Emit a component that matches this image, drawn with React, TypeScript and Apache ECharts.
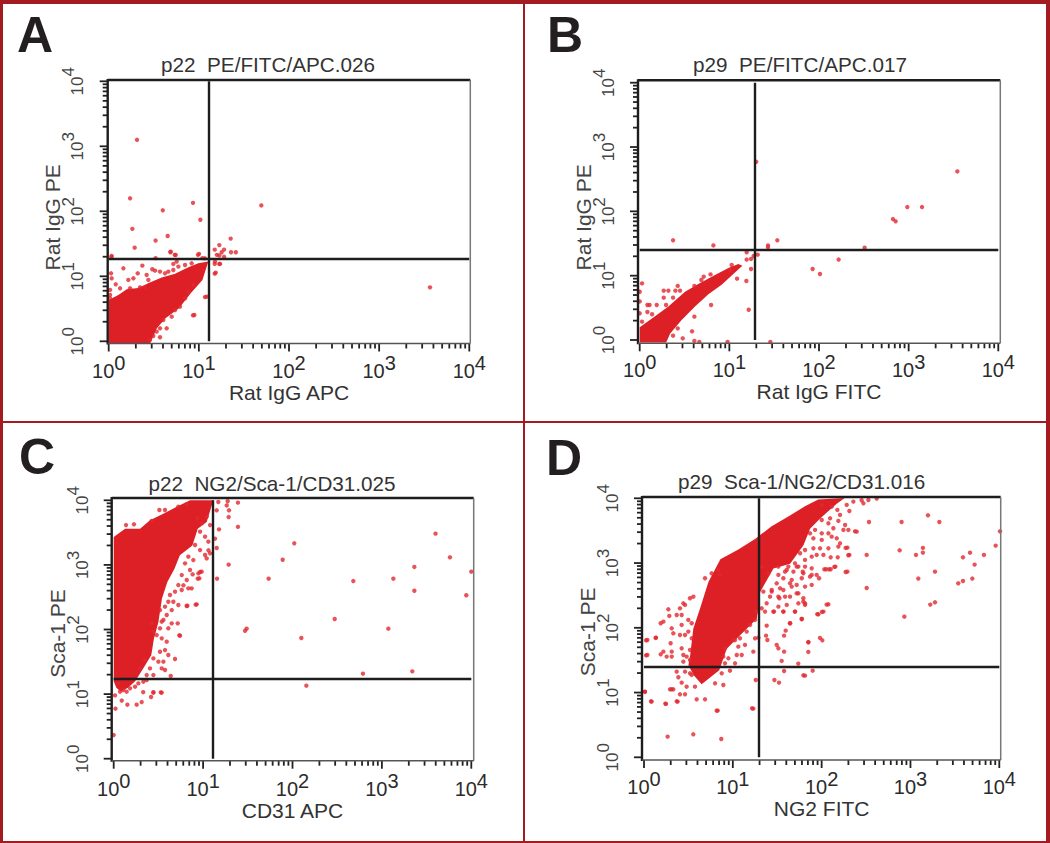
import React, { useEffect, useRef } from "react";
import * as echarts from "echarts";

// Every event position is stored as [log10 x, log10 y].
// The dense populations are stored as outlines of the solid region, individual events as points.
const titles = ["p22  PE/FITC/APC.026", "p29  PE/FITC/APC.017", "p22  NG2/Sca-1/CD31.025", "p29  Sca-1/NG2/CD31.016"];
const xNames = ["Rat IgG APC", "Rat IgG FITC", "CD31 APC", "NG2 FITC"];
const yNames = ["Rat IgG PE", "Rat IgG PE", "Sca-1 PE", "Sca-1 PE"];
const letters = ["A", "B", "C", "D"];
const gateX = [12.96, 19.3, 12.9, 19.4];
const gateY = [18.45, 25, 17.1, 25.4];
const tickValues = [1,2,3,4,5,6,7,8,9,10,20,30,40,50,60,70,80,90,100,200,300,400,500,600,700,800,900,1000,2000,3000,4000,5000,6000,7000,8000,9000,10000];

const cloudA = [[0,-0.03],[0,0.636],[0.107,0.713],[0.2,0.8],[0.329,0.82],[0.45,0.9],[0.588,0.98],[0.736,1.04],[0.884,1.14],[0.994,1.2],[1.105,1.226],[1.04,0.944],[0.91,0.738],[0.78,0.508],[0.63,0.354],[0.534,0.2],[0.46,-0.03]];
const cloudB = [[0,0.2],[0.152,0.35],[0.32,0.52],[0.506,0.75],[0.654,0.87],[0.84,1.01],[0.99,1.12],[1.1,1.18],[1.145,1.155],[1.063,1.05],[0.914,0.86],[0.766,0.71],[0.617,0.52],[0.468,0.31],[0.34,0.1],[0.295,-0.04],[0,-0.04]];
const cloudC = [[0,3.43],[0.127,3.56],[0.295,3.56],[0.406,3.69],[0.555,3.79],[0.705,3.9],[0.854,4],[1.115,4],[1.04,3.665],[0.94,3.56],[0.88,3.3],[0.74,3.15],[0.68,2.94],[0.6,2.735],[0.54,2.48],[0.5,2.116],[0.45,1.858],[0.42,1.6],[0.34,1.42],[0.24,1.2],[0.16,1.1],[0.08,1.04],[0.03,1.1],[0,1.2]];
const cloudD = [[0.52,1.575],[0.555,1.987],[0.63,2.296],[0.725,2.708],[0.86,3.06],[1.062,3.21],[1.25,3.37],[1.437,3.57],[1.625,3.72],[1.812,3.876],[1.962,3.98],[2.26,4.005],[2.17,3.917],[1.98,3.686],[1.87,3.53],[1.795,3.274],[1.645,2.99],[1.457,2.914],[1.307,2.553],[1.27,2.14],[1.082,1.884],[0.932,1.678],[0.847,1.344],[0.649,1.13],[0.56,1.266],[0.5,1.42]];

const eventsA = [[0.314,3.1],[0.237,2.2],[0.935,2.13],[0.6,2.015],[1.693,2.09],[1.017,1.87],[0.262,1.73],[0.654,1.62],[0.52,1.55],[0.288,1.44],[1.353,1.58],[0.684,1.37],[0.732,1.33],[0.03,1.3],[0.52,1.28],[0.99,1.33],[1.04,1.28],[1.227,1.48],[1.176,1.41],[1.28,1.41],[1.357,1.37],[1.41,1.37],[1.2,1.33],[1.253,1.37],[1.28,1.3],[1.227,1.32],[1.176,1.19],[1.227,1.19],[1.176,1.04],[1.068,0.68],[0.935,0.4],[3.564,0.83]];
const fringeA = [[0.033,1.313],[0.026,1.046],[0.163,1.123],[0.373,1.164],[0.484,1.108],[0.514,1.087],[0.717,1.19],[0.754,1.226],[0.033,0.969],[0.078,0.877],[0.218,0.944],[0.274,0.969],[0.322,1.046],[0.421,1.021],[0.44,0.944],[0.569,1.072],[0.662,1.072],[0.348,0.831],[0.403,0.831],[0.237,0.815],[0.126,0.815],[0.015,0.79],[0.015,0.713],[0.015,0.662],[0.625,1.046],[0.717,1.097],[0.773,1.149],[0.847,1.174],[0.92,1.2],[1.002,1.344],[0.743,1.328],[0.688,1.379],[1.068,1.277],[1.179,1.226],[1.235,1.19],[1.187,1.056],[1.087,0.687],[0.95,0.405],[0.884,0.764],[0.939,0.867],[0.847,0.662],[0.791,0.533],[0.736,0.482],[0.699,0.379],[0.606,0.328],[0.643,0.2],[0.569,0.2],[0.532,0.149],[0.495,0.082],[0.569,0.062],[0.458,0.021]];
const eventsB = [[1.3,2.77],[3.543,2.62],[2.985,2.067],[3.149,2.067],[2.825,1.88],[2.855,1.845],[2.509,1.435],[1.535,1.55],[1.431,1.47],[1.431,1.44],[0.372,1.55],[0.822,1.47],[2.219,1.25],[1.929,1.104],[2.011,1.026],[1.316,1.326],[1.271,1.306],[1.193,1.363],[1.193,1.25],[1.242,1.26],[1.242,1.104],[1.19,0.917],[1.086,0.953],[1.216,0.47],[0.796,0.544],[0.61,0.363],[0.584,0.135],[0.48,0.026],[0.424,0.18],[0.372,0.067],[0.61,-0.015],[0.665,-0.03],[0.98,-0.03],[1.457,-0.03],[0.026,0.88],[0,0.75],[0,0.6],[0,0.415],[0.026,0.285],[0.268,0.767],[0.32,0.767],[0.424,0.84],[0.398,0.767],[0.45,0.767],[0.268,0.658],[0.294,0.544],[0.19,0.544],[0.086,0.544],[0.11,0.544],[0.086,0.435],[0.138,0.4],[0.372,0.658],[0.714,0.984],[0.688,0.933],[0.79,1.02],[0.61,0.84],[1.026,1.166],[1.007,1.088]];
const eventsC = [[3.6,3.484],[2.02,3.334],[3.761,3.117],[1.89,3.08],[1.286,3.004],[3.363,2.968],[4,2.895],[1.733,2.787],[1.156,2.787],[3.128,2.787],[2.68,2.75],[3.363,2.6],[3.944,2.53],[2.472,2.163],[1.487,2.013],[1.469,1.98],[3.072,2.013],[2.099,1.868],[3.34,1.352],[2.788,1.316],[2.155,1.13],[0,0.366],[1.275,3.985],[1.39,3.964],[1.264,3.92],[1.29,3.845],[1.286,3.74],[1.39,3.59],[1.178,3.55],[1.152,3.845],[1.17,3.974],[1.133,3.406],[1.152,3.262],[1.04,3.1],[1.06,3.226],[0.966,2.89],[0.94,2.787],[0.883,2.854],[0.78,2.684],[0.917,2.385],[0.816,2.364],[0.734,1.91],[0.418,0.955],[0.526,1.027],[0.444,1.03],[0.33,1.03],[0.313,0.877],[0.257,0.836],[0.153,0.836],[0.09,0.9],[0.02,0.774],[0.015,0.98]];
const fringeC = [[0.936,3.72],[0.984,3.643],[1.04,3.746],[1.078,3.617],[0.966,3.514],[1.022,3.437],[1.059,3.359],[0.91,3.308],[0.966,3.23],[1.022,3.153],[1.078,3.179],[0.835,3.127],[0.891,3.075],[0.798,3.024],[0.854,2.921],[0.947,2.869],[0.984,2.895],[0.958,2.792],[0.761,2.843],[0.817,2.766],[0.723,2.688],[0.761,2.611],[0.835,2.637],[0.872,2.637],[0.686,2.585],[0.63,2.534],[0.824,2.368],[0.928,2.389],[0.723,2.379],[0.667,2.43],[0.611,2.43],[0.574,2.353],[0.649,2.301],[0.593,2.224],[0.518,2.301],[0.556,2.147],[0.649,2.095],[0.716,2.095],[0.611,2.018],[0.518,2.018],[0.481,1.914],[0.537,1.863],[0.593,1.811],[0.742,1.904],[0.574,1.682],[0.518,1.656],[0.611,1.605],[0.686,1.543],[0.556,1.502],[0.5,1.502],[0.444,1.553],[0.537,1.398],[0.406,1.398],[0.574,1.373],[0.638,1.28],[0.35,1.527],[0.295,1.398],[0.444,1.295],[0.369,1.295],[0.537,2.121],[0.425,2.095],[0.444,1.966],[0.138,3.617],[0.227,3.628],[0.425,3.68],[0.511,3.85],[0.574,3.85],[0.723,3.9],[0.817,3.94],[0.052,1.166],[0.108,1.063],[0.071,1.037],[0.183,1.089],[0.239,1.115],[0.276,1.166],[0.332,1.192],[0.369,1.218],[0.145,1.037],[0.444,1.022],[0.537,1.022]];
const eventsD = [[3.197,3.737],[2.9,3.634],[3.325,3.634],[2.533,3.634],[4.008,3.49],[3.959,3.269],[2.878,3.197],[3.14,3.233],[3.14,3.16],[3.062,3.125],[2.507,3.125],[3.67,3.16],[3.591,3.089],[3.827,3.125],[3.722,2.976],[3.276,2.867],[3.088,2.76],[3.696,2.76],[3.591,2.723],[3.538,2.687],[2.507,2.615],[3.276,2.394],[3.223,2.358],[2.931,2.172],[2.62,3.995],[2.45,3.97],[2.375,3.49],[2.3,3.12],[2.27,3.233],[2.27,2.862],[2.143,2.94],[2.083,2.903],[2.03,2.903],[2.056,2.358],[2.004,2.245],[1.951,2.21],[1.981,1.843],[2.008,1.807],[1.85,1.78],[1.85,1.627],[1.899,1.338],[1.794,1.266],[1.737,1.447],[0.266,0.319],[0.555,0.355],[0.87,0.283],[0.818,0.72],[1.216,0.757],[0.023,1.807],[0.023,1.575],[0.131,1.843],[0.011,1.009],[0.079,0.865],[0.24,0.829],[0.368,0.865],[0.311,1.05]];
const fringeDLower = [[0.443,2.378],[0.518,2.456],[0.405,2.301],[0.462,2.353],[0.556,2.481],[0.687,2.765],[0.762,2.842],[0.837,2.893],[0.856,2.816],[0.274,2.286],[0.285,2.183],[0.368,2.198],[0.424,2.198],[0.218,2.095],[0.188,2.07],[0.312,1.992],[0.33,1.915],[0.405,1.889],[0.462,1.889],[0.537,1.838],[0.499,1.941],[0.537,2.07],[0.499,2.121],[0.424,2.044],[0.3,1.761],[0.312,1.632],[0.218,1.632],[0.188,1.591],[0.255,1.555],[0.312,1.555],[0.424,1.683],[0.443,1.58],[0.518,1.658],[0.48,1.555],[0.443,1.477],[0.518,1.503],[0.038,1.812],[0.135,1.848],[0.038,1.58],[0.368,1.323],[0.387,1.236],[0.424,1.153],[0.462,1.323],[0.518,1.297],[0.48,1.091],[0.537,1.272],[0.574,1.091],[0.33,1.05],[0.293,1.05],[0.405,0.973],[0.462,0.973],[0.593,0.896],[0.687,0.896],[0.086,0.86],[0.248,0.824],[0.379,0.86],[0.83,0.721],[1.231,0.752],[0.011,1.014],[0.893,1.117],[0.8,1.143],[0.968,1.338],[0.875,1.297],[0.912,1.683],[0.893,1.555],[0.95,1.529],[1.044,1.58],[1.1,1.58],[1.062,1.709],[1.006,1.812],[1.081,1.838],[1.156,1.941],[1.194,2.044],[1.25,2.121],[1.269,2.25],[1.25,1.838],[1.288,1.848],[1.231,1.632],[1.258,1.194],[1.025,1.812],[1.137,1.735],[0.912,1.452],[1.025,1.452],[1.381,2.033],[1.325,2.301],[1.381,2.378],[1.464,2.25],[1.569,2.25],[1.7,2.25],[1.776,2.136],[1.644,2.07],[1.595,1.956],[1.577,1.879],[1.374,1.879],[1.389,1.812],[1.494,1.735],[1.513,1.683],[1.577,1.632],[1.55,1.488],[1.577,1.333],[1.468,1.194],[1.52,1.153],[1.813,1.261],[1.851,1.776],[1.344,2.559],[1.4,2.842],[1.325,2.945],[1.513,2.481],[1.569,2.584],[1.644,2.687],[1.719,2.533],[1.794,2.404],[1.813,2.353],[1.513,2.945],[1.607,2.893],[1.719,2.945],[1.794,2.842],[1.869,2.79],[1.438,2.559]];
const fringeDUpper = [[2.001,3.897],[2.113,3.871],[2.177,3.82],[2.207,3.743],[2.095,3.691],[2.188,3.65],[2.001,3.665],[2.076,3.614],[2.132,3.537],[2.264,3.588],[2.301,3.511],[2.395,3.485],[2.312,3.804],[2.282,3.897],[2.357,3.949],[2.47,3.923],[2.526,3.974],[2.245,3.511],[1.926,3.511],[1.869,3.459],[2.001,3.459],[2.076,3.459],[1.907,3.382],[2.001,3.357],[2.113,3.408],[2.17,3.382],[2.207,3.305],[2.188,3.254],[1.907,3.228],[1.982,3.228],[2.076,3.228],[1.813,3.202],[1.757,3.151],[1.888,3.099],[1.944,3.125],[2.02,3.125],[2.102,3.089],[2.181,3.089],[2.29,3.238],[2.312,3.125],[1.813,3.048],[1.7,2.996],[1.625,2.945],[1.738,2.945],[1.813,2.945],[1.888,2.919],[2.05,2.904],[2.102,2.904],[2.155,2.945],[2.29,2.867],[1.588,2.867],[1.682,2.867],[1.787,2.867],[1.888,2.816],[1.944,2.816],[1.971,2.765],[1.513,2.816],[1.569,2.765],[1.663,2.739],[1.776,2.765],[1.813,2.636],[1.888,2.662],[1.719,2.662],[1.663,2.636],[1.494,2.687],[1.438,2.584],[1.532,2.61],[1.419,2.481],[1.524,2.456],[1.588,2.481],[1.644,2.481],[1.738,2.533],[1.794,2.456],[1.738,2.378],[1.813,2.378],[2.076,2.363],[1.607,2.353],[1.513,2.327],[1.456,2.25],[1.569,2.25],[1.7,2.25],[2.02,2.25],[1.963,2.208],[1.776,2.136],[1.363,2.25],[1.644,2.07]];

const clouds = [cloudA, cloudB, cloudC, cloudD];
const events = [[...eventsA, ...fringeA], eventsB, [...eventsC, ...fringeC], [...eventsD, ...fringeDLower, ...fringeDUpper]];

// Page layout: axis extents and plot frame of each panel, in pixels.
const plots = [
  { l: 108.7, r: 469.3, t: 81.3, b: 341.3, bl: 107.7, br: 470.3, bt: 80, bb: 343.5, titleX: 268, titleY: 64, letterX: 17, letterY: 35, nameShift: 12 },
  { l: 639.7, r: 998.3, t: 82.7, b: 340, bl: 638, br: 1000.3, bt: 80.3, bb: 343.3, titleX: 800, titleY: 64, letterX: 547, letterY: 35, nameShift: 12 },
  { l: 113.7, r: 471.3, t: 500.3, b: 758.7, bl: 111.7, br: 473.7, bt: 498, bb: 760.7, titleX: 272, titleY: 483, letterX: 19, letterY: 457, nameShift: 8 },
  { l: 644, r: 999.3, t: 498.3, b: 757.3, bl: 642, br: 1000.7, bt: 497, bb: 760, titleX: 801.7, titleY: 481, letterX: 546, letterY: 457.7, nameShift: 8 },
];

const RED = "#dd1f26";
const EVENT = "#e2282f";
const BORDER = "#a31a20";
const FONT = "'Liberation Sans', Arial, sans-serif";

const toValue = (p: number[]) => [Math.pow(10, p[0]), Math.pow(10, p[1])];
const decade = (v: number) => String(Math.round(Math.log10(v)));

function buildOption() {
  const grid: any[] = [], xAxis: any[] = [], yAxis: any[] = [], series: any[] = [], title: any[] = [], graphic: any[] = [];
  plots.forEach((p, i) => {
    grid.push({ left: p.l, top: p.t, width: p.r - p.l, height: p.b - p.t });
    xAxis.push({
      type: "log", logBase: 10, min: 1, max: 10000, gridIndex: i,
      axisLine: { show: false }, axisTick: { show: false }, splitLine: { show: false },
      axisLabel: {
        margin: 12, showMinLabel: true, showMaxLabel: true, hideOverlap: false,
        formatter: (v: number) => `{b|10}{s|${decade(v)}}`,
        rich: {
          b: { fontFamily: FONT, fontSize: 20, color: "#2b2b2b", lineHeight: 28, verticalAlign: "bottom" },
          s: { fontFamily: FONT, fontSize: 20, color: "#2b2b2b", lineHeight: 28, padding: [0, 0, 8, 0], verticalAlign: "top" },
        },
      },
      name: xNames[i], nameLocation: "middle", nameGap: 41, nameMoveOverlap: false,
      nameTextStyle: { fontFamily: FONT, fontSize: 21, color: "#333" },
    });
    yAxis.push({
      type: "log", logBase: 10, min: 1, max: 10000, gridIndex: i,
      axisLine: { show: false }, axisTick: { show: false }, splitLine: { show: false },
      axisLabel: {
        rotate: 90, margin: 23, showMinLabel: true, showMaxLabel: true, hideOverlap: false,
        formatter: (v: number) => `{b|10}{s|${decade(v)}}`,
        rich: {
          b: { fontFamily: FONT, fontSize: 17, color: "#444", lineHeight: 26, verticalAlign: "bottom" },
          s: { fontFamily: FONT, fontSize: 17, color: "#444", lineHeight: 26, padding: [0, 0, 9, 0], verticalAlign: "top" },
        },
      },
      name: yNames[i], nameLocation: "middle", nameGap: 46, nameMoveOverlap: false,
      nameTextStyle: { fontFamily: FONT, fontSize: 21, color: "#444", padding: [0, p.nameShift, 0, 0] },
    });

    const outline = clouds[i].map(toValue);
    series.push({
      type: "custom", xAxisIndex: i, yAxisIndex: i, silent: true, z: 2, clip: false, data: outline,
      renderItem: (params: any, api: any) => {
        if (params.dataIndex !== 0) return null;
        return { type: "polygon", shape: { points: outline.map((q) => api.coord(q)) }, style: { fill: RED } };
      },
    });
    series.push({
      type: "scatter", xAxisIndex: i, yAxisIndex: i, silent: true, z: 3, clip: false,
      symbol: "circle", symbolSize: 4.4, itemStyle: { color: EVENT },
      large: false, data: events[i].map(toValue),
      markLine: {
        silent: true, symbol: "none", animation: false, label: { show: false }, z: 4,
        lineStyle: { color: "#1d1d1d", width: 2.4, type: "solid" },
        data: [{ xAxis: gateX[i] }, { yAxis: gateY[i] }],
      },
    });
    // Log tick marks of both axes (ECharts has no decade-aware minor ticks).
    series.push({
      type: "custom", xAxisIndex: i, yAxisIndex: i, silent: true, z: 4, clip: false,
      data: tickValues.map((v) => [v, v]),
      renderItem: (_: any, api: any) => {
        const v = api.value(0);
        const major = Number.isInteger(Math.round(Math.log10(v) * 1000) / 1000);
        const len = major ? 8 : 5;
        const c = api.coord([v, v]);
        return {
          type: "group",
          children: [
            { type: "line", shape: { x1: c[0], y1: p.bb, x2: c[0], y2: p.bb + len }, style: { stroke: "#222", lineWidth: 1.8 } },
            { type: "line", shape: { x1: p.bl, y1: c[1], x2: p.bl - len, y2: c[1] }, style: { stroke: "#222", lineWidth: 1.8 } },
          ],
        };
      },
    });

    title.push({
      text: titles[i], left: p.titleX, top: p.titleY, textAlign: "center", textVerticalAlign: "middle", padding: 0,
      textStyle: { fontFamily: FONT, fontSize: 20.7, fontWeight: "normal", color: "#333" },
    });
    const frame = (x1: number, y1: number, x2: number, y2: number, stroke: string, lineWidth: number) =>
      ({ type: "line", z: 50, silent: true, shape: { x1, y1, x2, y2 }, style: { stroke, lineWidth } });
    graphic.push(
      frame(p.bl, p.bt, p.br, p.bt, "#1d1d1d", 2.4),
      frame(p.bl, p.bt - 1, p.bl, p.bb + 1, "#1d1d1d", 2.4),
      frame(p.br, p.bt, p.br, p.bb, "#777", 1.5),
      frame(p.bl, p.bb, p.br, p.bb, "#555", 1.5),
      { type: "text", z: 50, silent: true, style: { text: letters[i], x: p.letterX, y: p.letterY, font: `bold 50px ${FONT}`, fill: "#231f20", textVerticalAlign: "middle" } },
    );
  });
  const band = (x: number, y: number, width: number, height: number) =>
    ({ type: "rect", z: 60, silent: true, shape: { x, y, width, height }, style: { fill: BORDER } });
  graphic.push(band(0, 0, 1050, 4), band(0, 0, 3, 843), band(1046, 0, 4, 843), band(0, 841, 1050, 2), band(523, 0, 2, 843), band(0, 421, 1050, 2));
  return { animation: false, backgroundColor: "#fff", grid, xAxis, yAxis, series, title, graphic };
}

export default function App() {
  const ref = useRef<HTMLDivElement>(null);
  useEffect(() => {
    const chart = echarts.init(ref.current!, undefined, { renderer: "svg" });
    chart.setOption(buildOption() as any);
    return () => chart.dispose();
  }, []);
  return <div ref={ref} style={{ position: "absolute", left: 0, top: 0, width: 1050, height: 843 }} />;
}
